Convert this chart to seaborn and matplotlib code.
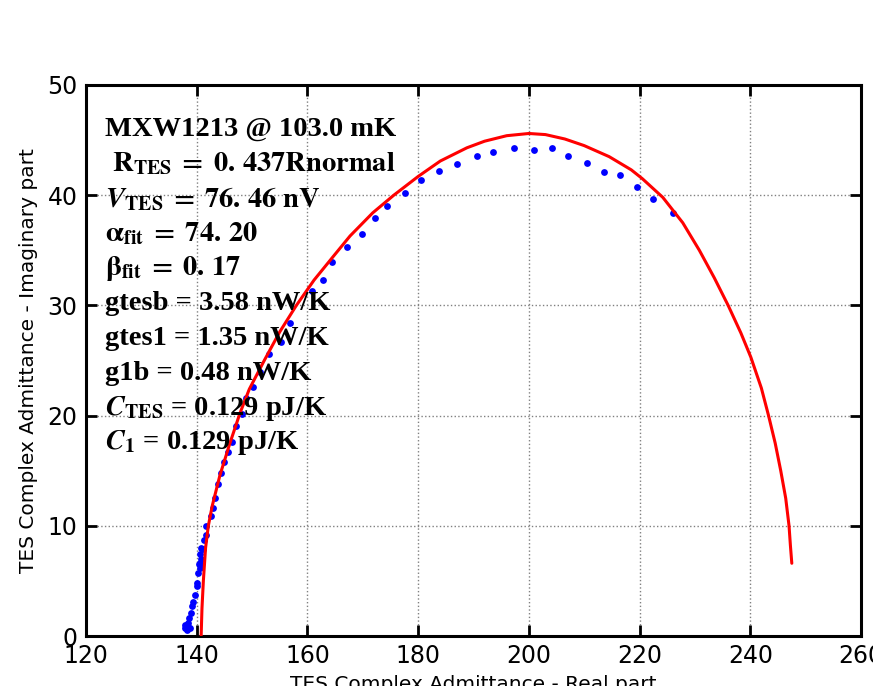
import numpy as np
import pandas as pd
import seaborn as sns
import matplotlib.pyplot as plt

sns.set_style("ticks", {"axes.edgecolor": "black", "text.color": "black",
                        "xtick.color": "black", "ytick.color": "black",
                        "axes.labelcolor": "black"})
plt.rcParams['font.family'] = ['DejaVu Sans']
plt.rcParams['mathtext.fontset'] = 'stix'

# measured admittance (blue dots)
re_meas = [137.9, 138.4, 137.8, 138.2, 138.8, 138.5, 138.6, 138.9, 139.1, 139.4,
           139.7, 140.0, 140.0, 140.3, 140.6, 140.6, 140.4, 140.8, 140.6, 141.2,
           140.8, 141.4, 141.6, 141.6, 142.6, 143.0, 143.3, 143.9, 144.4, 145.0,
           145.6, 146.3, 147.1, 148.1, 148.9, 150.2, 151.4, 153.1, 155.2, 156.9,
           160.8, 162.9, 164.5, 167.2, 169.9, 172.2, 174.4, 177.7, 180.6, 183.7,
           187.1, 190.6, 193.6, 197.4, 201.0, 204.1, 207.1, 210.5, 213.5, 216.5,
           219.6, 222.5, 226.0]
im_meas = [1.0, 0.8, 0.7, 0.5, 0.75, 1.15, 1.6, 2.1, 2.7, 3.1,
           3.7, 4.5, 4.8, 5.7, 6.6, 6.2, 6.5, 7.0, 7.4, 7.9,
           8.0, 8.7, 9.2, 10.0, 10.9, 11.6, 12.5, 13.8, 14.8, 15.8,
           16.7, 17.6, 19.1, 20.1, 21.6, 22.6, 24.0, 25.6, 26.7, 28.4,
           31.3, 32.3, 33.9, 35.3, 36.5, 37.9, 39.0, 40.2, 41.4, 42.2,
           42.8, 43.6, 43.9, 44.3, 44.1, 44.3, 43.6, 42.9, 42.1, 41.8,
           40.7, 39.7, 38.4]

# fitted model (red curve)
re_fit = [140.8, 140.95, 141.2, 141.6, 142.1, 142.8, 144.2, 146.0, 147.8, 149.5,
          152.2, 155.0, 158.0, 161.2, 164.6, 167.7, 171.8, 175.6, 180.0, 184.0,
          188.8, 192.0, 196.0, 200.0, 203.0, 206.5, 210.0, 214.5, 218.5, 220.5,
          224.2, 227.8, 230.8, 233.5, 236.0, 238.3, 240.1, 242.0, 243.3, 244.5,
          245.5, 246.4, 247.0, 247.25, 247.5]
im_fit = [0.0, 2.5, 5.0, 8.0, 10.0, 11.8, 14.6, 17.5, 20.2, 22.4,
          25.0, 27.6, 30.0, 32.3, 34.4, 36.3, 38.4, 40.0, 41.7, 43.1,
          44.3, 44.9, 45.4, 45.6, 45.5, 45.1, 44.5, 43.5, 42.3, 41.5,
          39.8, 37.5, 35.0, 32.5, 30.0, 27.5, 25.3, 22.5, 20.0, 17.5,
          15.0, 12.5, 10.0, 8.2, 6.6]

info_lines = [
    "MXW1213 @ 103.0 mK",
    r" $\mathbf{R_{TES}}\;\mathbf{=}\;\mathbf{0.\,437Rnormal}$",
    r"$\mathbfit{V}_{\mathbf{TES}}\;\mathbf{=}\;\mathbf{76.\,46\ nV}$",
    r"$\mathbf{\alpha_{fit}}\;\mathbf{=}\;\mathbf{74.\,20}$",
    r"$\mathbf{\beta_{fit}}\;\mathbf{=}\;\mathbf{0.\,17}$",
    "gtesb = 3.58 nW/K",
    "gtes1 = 1.35 nW/K",
    "g1b = 0.48 nW/K",
    r"$\mathbfit{C}_{\mathbf{TES}}$ = 0.129 pJ/K",
    r"$\mathbfit{C}_{\mathbf{1}}$ = 0.129 pJ/K",
]

meas = pd.DataFrame({"re": re_meas, "im": im_meas})
fit = pd.DataFrame({"re": re_fit, "im": im_fit})

fig = plt.figure(figsize=(8.73, 6.86), dpi=100)
ax = fig.add_axes([86 / 873, 50 / 686, 775 / 873, 551 / 686])

sns.scatterplot(data=meas, x="re", y="im", ax=ax, color="blue", s=24,
                edgecolor="blue", linewidth=0, zorder=3)
sns.lineplot(data=fit, x="re", y="im", ax=ax, color="red", lw=2.2,
             sort=False, zorder=4)

ax.set_xlim(120, 260)
ax.set_ylim(0, 50)
ax.set_xticks(np.arange(120, 261, 20))
ax.set_yticks(np.arange(0, 51, 10))
ax.grid(True, color="0.5", linestyle=":", linewidth=1)
ax.tick_params(direction="in", length=8, width=2, labelsize=17,
               top=True, right=True, pad=6, colors="black")
for sp in ax.spines.values():
    sp.set_linewidth(2.2)
    sp.set_color("black")
ax.set_xlabel("TES Complex Admittance - Real part", fontsize=14.5, labelpad=5)
ax.set_ylabel("TES Complex Admittance - Imaginary part", fontsize=14.5, labelpad=7)

for i, line in enumerate(info_lines):
    ax.text(0.024, 0.92 - i * 0.0633, line, transform=ax.transAxes,
            fontsize=20.5, fontweight="bold", va="center", ha="left",
            family=["Liberation Serif", "DejaVu Serif"], zorder=5)

fig.savefig("out.png", dpi=100)
